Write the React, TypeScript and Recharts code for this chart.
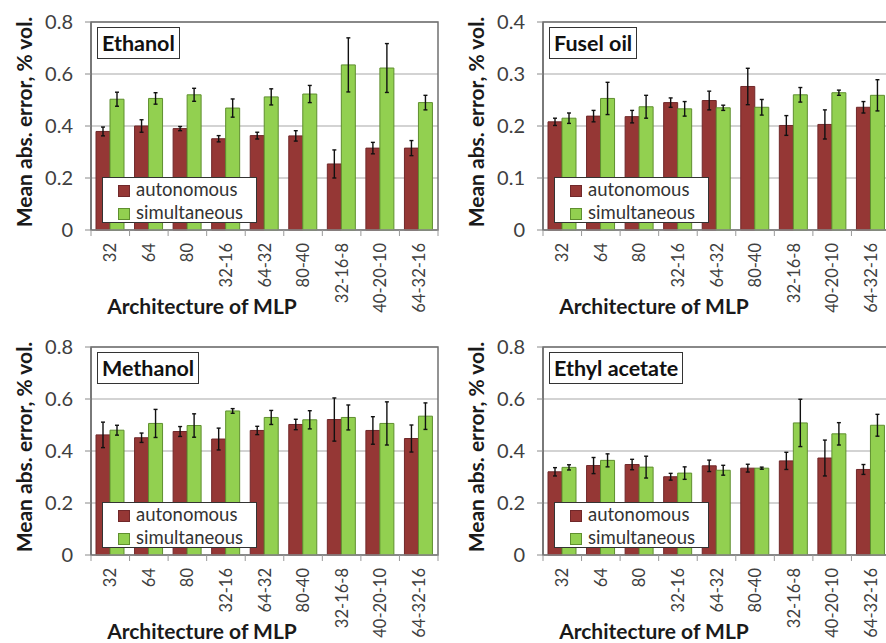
import React from "react";
import { BarChart, Bar, XAxis, YAxis, CartesianGrid, ErrorBar, ReferenceArea } from "recharts";

const architectures = ["32", "64", "80", "32-16", "64-32", "80-40", "32-16-8", "40-20-10", "64-32-16"];
const seriesNames = ["autonomous", "simultaneous"];

const ethanolAuto = [0.379, 0.4, 0.39, 0.351, 0.363, 0.362, 0.254, 0.315, 0.315];
const ethanolAutoErr = [0.017, 0.024, 0.008, 0.012, 0.013, 0.02, 0.054, 0.022, 0.029];
const ethanolSim = [0.503, 0.506, 0.52, 0.469, 0.512, 0.523, 0.635, 0.623, 0.49];
const ethanolSimErr = [0.027, 0.022, 0.025, 0.035, 0.031, 0.033, 0.104, 0.094, 0.028];

const fuselAuto = [0.208, 0.219, 0.218, 0.245, 0.249, 0.276, 0.201, 0.203, 0.236];
const fuselAutoErr = [0.007, 0.011, 0.012, 0.009, 0.018, 0.035, 0.019, 0.028, 0.011];
const fuselSim = [0.215, 0.253, 0.237, 0.233, 0.235, 0.236, 0.26, 0.264, 0.259];
const fuselSimErr = [0.01, 0.031, 0.022, 0.014, 0.005, 0.015, 0.014, 0.005, 0.03];

const methanolAuto = [0.462, 0.451, 0.475, 0.446, 0.479, 0.502, 0.521, 0.479, 0.448];
const methanolAutoErr = [0.049, 0.018, 0.019, 0.042, 0.016, 0.02, 0.083, 0.053, 0.052];
const methanolSim = [0.48, 0.506, 0.498, 0.554, 0.529, 0.52, 0.529, 0.506, 0.534];
const methanolSimErr = [0.019, 0.054, 0.045, 0.009, 0.027, 0.035, 0.048, 0.083, 0.051];

const ethylAuto = [0.32, 0.344, 0.348, 0.301, 0.343, 0.334, 0.362, 0.373, 0.329];
const ethylAutoErr = [0.016, 0.031, 0.02, 0.013, 0.022, 0.015, 0.033, 0.069, 0.019];
const ethylSim = [0.337, 0.364, 0.338, 0.315, 0.326, 0.334, 0.508, 0.466, 0.499];
const ethylSimErr = [0.01, 0.025, 0.042, 0.024, 0.019, 0.004, 0.091, 0.043, 0.042];

const ticks08 = [0, 0.2, 0.4, 0.6, 0.8];
const ticks04 = [0, 0.1, 0.2, 0.3, 0.4];

const FONT = "Lato, 'Open Sans', sans-serif";
const RED = "#953735";
const GREEN = "#92d050";
const W = 445;
const H = 335;
const PLOT_TOP = 22;
const PLOT_BOTTOM = 230;
const PLOT_LEFT = 91;
const PLOT_RIGHT = 7;
const BAND = (W - PLOT_LEFT - PLOT_RIGHT) / architectures.length;

const ArchTick = (props: any) => {
  const { x, y, payload, index } = props;
  const half = payload && payload.offset ? payload.offset : BAND / 2;
  return (
    <g>
      <line x1={x - half} x2={x - half} y1={y} y2={y + 6} stroke="#999" />
      {index === architectures.length - 1 && <line x1={x + half} x2={x + half} y1={y} y2={y + 6} stroke="#999" />}
      <text
        x={x}
        y={y + 13}
        transform={`rotate(-90, ${x}, ${y + 13})`}
        textAnchor="end"
        dominantBaseline="central"
        fill="#404040"
        fontSize={16.5}
        fontFamily={FONT}
      >
        {payload.value}
      </text>
    </g>
  );
};

function Panel(props: {
  title: string; auto: number[]; autoErr: number[]; sim: number[]; simErr: number[];
  yMax: number; yTicks: number[]; left: number; top: number;
}) {
  const { title, auto, autoErr, sim, simErr, yMax, yTicks, left, top } = props;
  const data = architectures.map((name, i) => ({
    name, auto: auto[i], autoErr: autoErr[i], sim: sim[i], simErr: simErr[i],
  }));
  return (
    <div style={{ position: "absolute", left, top, width: W, height: H, fontFamily: FONT }}>
      <BarChart width={W} height={H} data={data} margin={{ top: PLOT_TOP, right: PLOT_RIGHT, bottom: 0, left: 0 }} barGap={0}>
        <CartesianGrid vertical={false} stroke="#c4c4c4" strokeWidth={1.5} />
        <XAxis dataKey="name" height={H - PLOT_BOTTOM} interval={0} tickSize={0} tickMargin={0} tickLine={false}
          axisLine={{ stroke: "#8a8a8a", strokeWidth: 1.5 }} tick={<ArchTick />} />
        <YAxis width={PLOT_LEFT} domain={[0, yMax]} ticks={yTicks} interval={0} tickSize={6} tickMargin={12}
          axisLine={{ stroke: "#707070", strokeWidth: 1.5 }} tickLine={{ stroke: "#8a8a8a" }}
          tick={{ fill: "#404040", fontSize: 20, fontFamily: FONT }} />
        <Bar dataKey="auto" name={seriesNames[0]} fill={RED} stroke="#70282a" barSize={14} isAnimationActive={false}>
          <ErrorBar dataKey="autoErr" width={2} stroke="#111" strokeWidth={1.4} />
        </Bar>
        <Bar dataKey="sim" name={seriesNames[1]} fill={GREEN} stroke="#5f8f2f" barSize={14} isAnimationActive={false}>
          <ErrorBar dataKey="simErr" width={2} stroke="#111" strokeWidth={1.4} />
        </Bar>
        <ReferenceArea y1={0} y2={yMax} fill="none" stroke="#707070" strokeWidth={1.5} />
      </BarChart>

      <div style={{
        position: "absolute", left: 97, top: 27, height: 30, padding: "0 4px", border: "1.5px solid #333",
        background: "#fff", fontWeight: 700, fontSize: 21.5, lineHeight: "30px", color: "#111",
      }}>{title}</div>

      <div style={{
        position: "absolute", left: 102, top: 177, width: 153, height: 44, border: "1.5px solid #333",
        background: "#fff", fontSize: 18.5, color: "#333",
      }}>
        {seriesNames.map((s, i) => (
          <div key={s} style={{ position: "absolute", left: 15, top: 1 + i * 23, height: 21, lineHeight: "21px", whiteSpace: "nowrap" }}>
            <span style={{
              display: "inline-block", width: 10, height: 10, marginRight: 6, verticalAlign: "-1px",
              background: i === 0 ? RED : GREEN, border: `1px solid ${i === 0 ? "#70282a" : "#5f8f2f"}`,
            }} />
            {s}
          </div>
        ))}
      </div>

      <div style={{
        position: "absolute", left: 23, top: 122, transform: "translate(-50%, -50%) rotate(-90deg)",
        whiteSpace: "nowrap", fontWeight: 700, fontSize: 21, lineHeight: 1, color: "#1a1a1a",
      }}>Mean abs. error, % vol.</div>

      <div style={{
        position: "absolute", left: 202, top: 295, transform: "translateX(-50%)",
        whiteSpace: "nowrap", fontWeight: 700, fontSize: 21, lineHeight: 1, color: "#1a1a1a",
      }}>Architecture of MLP</div>
    </div>
  );
}

export default function App() {
  return (
    <div style={{ position: "absolute", left: 0, top: 0, width: 886, height: 643, overflow: "hidden", background: "#fff" }}>
      <Panel title="Ethanol" auto={ethanolAuto} autoErr={ethanolAutoErr} sim={ethanolSim} simErr={ethanolSimErr}
        yMax={0.8} yTicks={ticks08} left={0} top={0} />
      <Panel title="Fusel oil" auto={fuselAuto} autoErr={fuselAutoErr} sim={fuselSim} simErr={fuselSimErr}
        yMax={0.4} yTicks={ticks04} left={452} top={0} />
      <Panel title="Methanol" auto={methanolAuto} autoErr={methanolAutoErr} sim={methanolSim} simErr={methanolSimErr}
        yMax={0.8} yTicks={ticks08} left={0} top={325} />
      <Panel title="Ethyl acetate" auto={ethylAuto} autoErr={ethylAutoErr} sim={ethylSim} simErr={ethylSimErr}
        yMax={0.8} yTicks={ticks08} left={452} top={325} />
    </div>
  );
}
